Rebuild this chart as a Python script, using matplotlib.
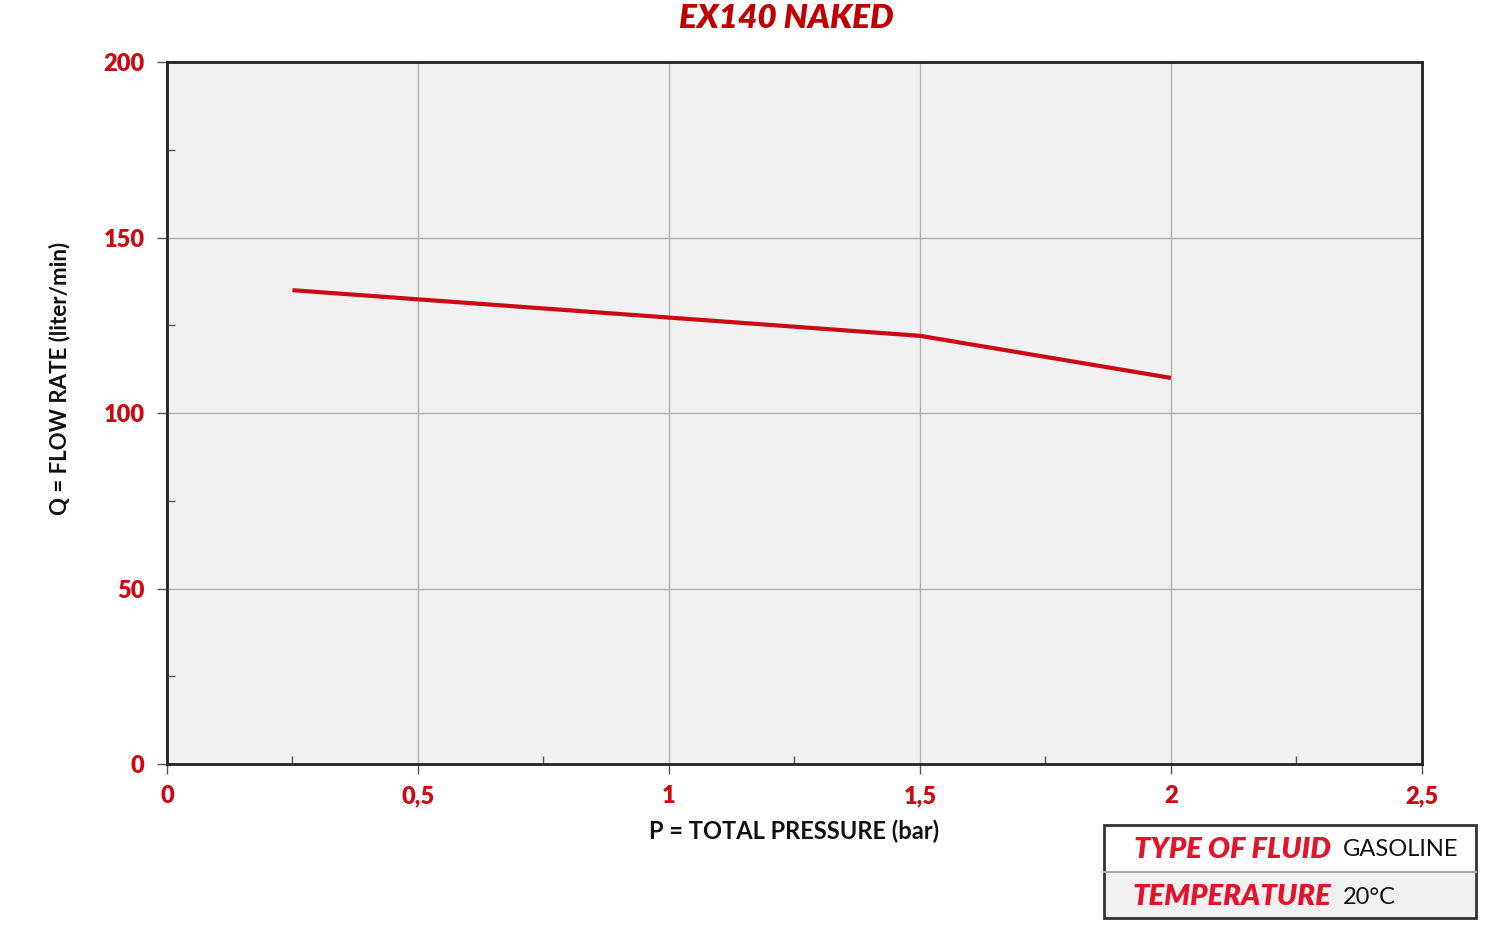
import matplotlib
matplotlib.use("Agg")
import matplotlib.pyplot as plt
from matplotlib.patches import Rectangle
from matplotlib.ticker import MultipleLocator

pressure = [0.25, 0.5, 1.0, 1.5, 2.0]
flow = [135, 132.4, 127.2, 122, 110]
x_ticks = [0, 0.5, 1, 1.5, 2, 2.5]
x_labels = ["0", "0,5", "1", "1,5", "2", "2,5"]
y_ticks = [0, 50, 100, 150, 200]
y_labels = ["0", "50", "100", "150", "200"]
info_keys = ["TYPE OF FLUID", "TEMPERATURE"]
info_vals = ["GASOLINE", "20°C"]

RED = "#cc0a14"
plt.rcParams['font.family'] = ['Lato', 'DejaVu Sans']

fig = plt.figure(figsize=(15, 9.4), dpi=100)
W, H = 1500.0, 940.0
ax = fig.add_axes([0.1113, 0.1872, 0.8367, 0.7468])
ax.set_facecolor("#f1f1f1")
ax.plot(pressure, flow, color=RED, lw=3, solid_capstyle='butt', zorder=3)
ax.set_xlim(0, 2.5)
ax.set_ylim(0, 200)
ax.set_xticks(x_ticks)
ax.set_xticklabels(x_labels)
ax.set_yticks(y_ticks)
ax.set_yticklabels(y_labels)
ax.xaxis.set_minor_locator(MultipleLocator(0.25))
ax.yaxis.set_minor_locator(MultipleLocator(25))
ax.grid(True, which='major', color="#b0b0b0", lw=1)
ax.tick_params(which='major', direction='out', length=7, width=1, color="#555555",
               labelcolor=RED, labelsize=17)
ax.tick_params(axis='x', which='major', pad=8)
ax.tick_params(axis='y', which='major', pad=9)
ax.tick_params(which='minor', direction='in', length=6, width=1, color="#555555")
for lab in ax.get_xticklabels() + ax.get_yticklabels():
    lab.set_fontweight('heavy')
for s in ax.spines.values():
    s.set_color("#222222")
    s.set_linewidth(2)

fig.text(794 / W, 1 - 831 / H, "P = TOTAL PRESSURE (bar)", ha='center', va='center',
         fontsize=17, fontweight='bold', color="#111111")
fig.text(60 / W, 1 - 378 / H, "Q = FLOW RATE (liter/min)", ha='center', va='center',
         rotation=90, fontsize=16, fontweight='bold', color="#111111")
fig.text(786 / W, 1 - 18 / H, "EX140 NAKED", ha='center', va='center', fontsize=24,
         fontweight='heavy', fontstyle='italic', color="#c00000")

# info box
x0, x1 = 1104 / W, 1476 / W
y_top, y_mid, y_bot = 1 - 825 / H, 1 - 872 / H, 1 - 918 / H
fig.add_artist(Rectangle((x0, y_mid), x1 - x0, y_top - y_mid, transform=fig.transFigure,
                         facecolor="white", edgecolor="none"))
fig.add_artist(Rectangle((x0, y_bot), x1 - x0, y_mid - y_bot, transform=fig.transFigure,
                         facecolor="#f1f1f1", edgecolor="none"))
fig.add_artist(Rectangle((x0, y_bot), x1 - x0, y_top - y_bot, transform=fig.transFigure,
                         facecolor="none", edgecolor="#333333", lw=2))
fig.add_artist(plt.Line2D([x0, x1], [y_mid, y_mid], transform=fig.transFigure,
                          color="#aaaaaa", lw=1.5))
rows_y = [1 - 850 / H, 1 - 897 / H]
for k, v, yy in zip(info_keys, info_vals, rows_y):
    fig.text(1331 / W, yy, k, ha='right', va='center', fontsize=21, fontweight='heavy',
             fontstyle='italic', color="#e0142a")
    fig.text(1343 / W, yy, v, ha='left', va='center', fontsize=17, color="#111111")

fig.savefig("out.png", dpi=100)
